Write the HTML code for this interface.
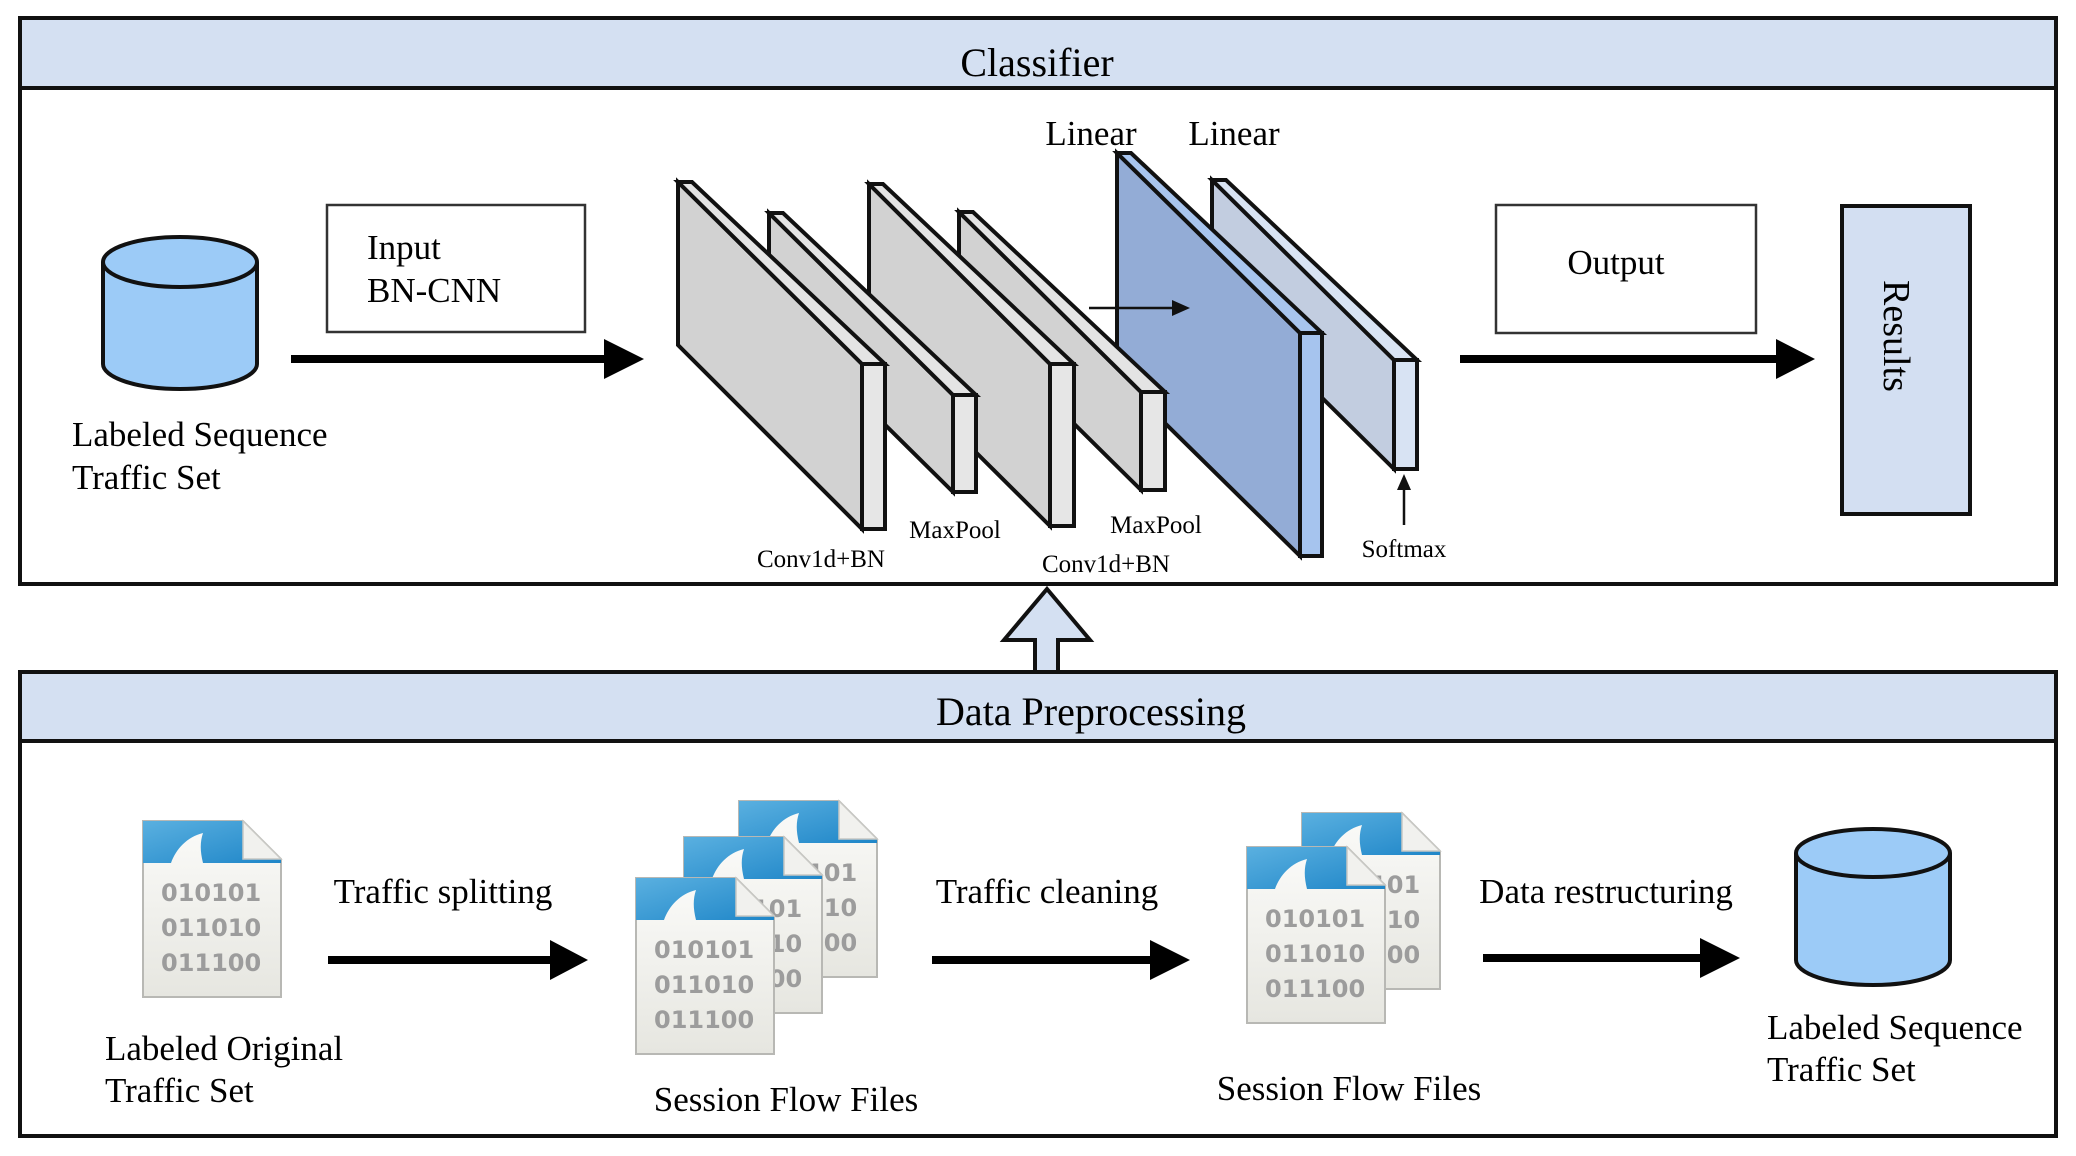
<!DOCTYPE html>
<html><head><meta charset="utf-8"><style>
html,body{margin:0;padding:0;background:#fff}
svg{display:block}
text{font-family:"Liberation Serif",serif;fill:#000}
.n{font-family:"DejaVu Sans",sans-serif;font-weight:bold;font-size:24px;fill:#9c9c9c}
</style></head><body>
<svg width="2076" height="1156" viewBox="0 0 2076 1156" xmlns="http://www.w3.org/2000/svg">
<defs>
<linearGradient id="fg" x1="0" y1="0" x2="0" y2="1"><stop offset="0" stop-color="#fbfbf9"/><stop offset="1" stop-color="#e6e6e0"/></linearGradient>
<linearGradient id="bg" x1="0" y1="0" x2="1" y2="1"><stop offset="0" stop-color="#5ab0e0"/><stop offset="1" stop-color="#1f86c8"/></linearGradient>
</defs>
<rect width="2076" height="1156" fill="#fff"/>

<!-- Classifier panel -->
<rect x="20" y="18" width="2036" height="566" fill="#fff" stroke="#111" stroke-width="4"/>
<rect x="22" y="20" width="2032" height="67" fill="#d4e0f2"/>
<line x1="20" y1="88" x2="2056" y2="88" stroke="#111" stroke-width="4"/>
<text x="1037" y="76" font-size="40" text-anchor="middle">Classifier</text>

<!-- cylinder 1 -->
<path d="M103,262 V364 A77,25 0 0 0 257,364 V262" fill="#9ccbf7" stroke="#111" stroke-width="4"/>
<ellipse cx="180" cy="262" rx="77" ry="25" fill="#9ccbf7" stroke="#111" stroke-width="4"/>
<text x="72" y="446" font-size="35">Labeled Sequence</text>
<text x="72" y="489" font-size="35">Traffic Set</text>

<rect x="327" y="205" width="258" height="127" fill="#fff" stroke="#333" stroke-width="2.5"/>
<text x="367" y="259" font-size="35">Input</text>
<text x="367" y="302" font-size="35">BN-CNN</text>

<line x1="291" y1="359" x2="612" y2="359" stroke="#000" stroke-width="8"/>
<polygon points="604,339 644,359 604,379" fill="#000"/>

<!-- layers: drawn right-to-left so leftmost is in front -->
<g stroke="#111" stroke-width="4" stroke-linejoin="miter">
<!-- layer 6 -->
<polygon points="1212,180 1394,360 1394,469 1212,289" fill="#c2cde0"/>
<polygon points="1212,180 1226,180 1417,360 1394,360" fill="#d8e3f3"/>
<rect x="1394" y="360" width="23" height="109" fill="#d8e3f3"/>
<!-- layer 5 blue -->
<polygon points="1117,153 1300,333 1300,556 1117,376" fill="#93acd6"/>
<polygon points="1117,153 1131,153 1322,333 1300,333" fill="#a8c5ee"/>
<rect x="1300" y="333" width="22" height="223" fill="#a6c4ee"/>
<!-- layer 4 -->
<polygon points="959,212 1141,392 1141,490 959,310" fill="#d2d2d2"/>
<polygon points="959,212 973,212 1165,392 1141,392" fill="#e4e4e4"/>
<rect x="1141" y="392" width="24" height="98" fill="#e6e6e6"/>
<!-- layer 3 -->
<polygon points="869,184 1050,364 1050,526 869,346" fill="#d2d2d2"/>
<polygon points="869,184 883,184 1074,364 1050,364" fill="#e4e4e4"/>
<rect x="1050" y="364" width="24" height="162" fill="#e6e6e6"/>
<!-- layer 2 -->
<polygon points="769,213 953,395 953,492 769,310" fill="#d2d2d2"/>
<polygon points="769,213 783,213 976,395 953,395" fill="#e4e4e4"/>
<rect x="953" y="395" width="23" height="97" fill="#e6e6e6"/>
<!-- layer 1 -->
<polygon points="678,182 862,364 862,529 678,345" fill="#d2d2d2"/>
<polygon points="678,182 692,182 885,364 862,364" fill="#e4e4e4"/>
<rect x="862" y="364" width="23" height="165" fill="#e6e6e6"/>
</g>
<line x1="1089" y1="308" x2="1180" y2="308" stroke="#111" stroke-width="2.5"/>
<polygon points="1172,300 1190,308 1172,316" fill="#111"/>

<line x1="1404" y1="525" x2="1404" y2="487" stroke="#111" stroke-width="2.5"/>
<polygon points="1397,490 1404,474 1411,490" fill="#111"/>

<text x="1091" y="145" font-size="35" text-anchor="middle">Linear</text>
<text x="1234" y="145" font-size="35" text-anchor="middle">Linear</text>
<text x="821" y="567" font-size="25" text-anchor="middle">Conv1d+BN</text>
<text x="955" y="538" font-size="25" text-anchor="middle">MaxPool</text>
<text x="1106" y="572" font-size="25" text-anchor="middle">Conv1d+BN</text>
<text x="1156" y="533" font-size="25" text-anchor="middle">MaxPool</text>
<text x="1404" y="557" font-size="25" text-anchor="middle">Softmax</text>

<rect x="1496" y="205" width="260" height="128" fill="#fff" stroke="#333" stroke-width="2.5"/>
<text x="1616" y="274" font-size="35" text-anchor="middle">Output</text>
<line x1="1460" y1="359" x2="1784" y2="359" stroke="#000" stroke-width="8"/>
<polygon points="1776,339 1815,359 1776,379" fill="#000"/>

<rect x="1842" y="206" width="128" height="308" fill="#d3dff2" stroke="#111" stroke-width="4"/>
<text transform="translate(1884,336) rotate(90)" font-size="38" text-anchor="middle">Results</text>

<!-- up arrow -->
<polygon points="1047,589 1090,640 1058,640 1058,672 1035,672 1035,640 1004,640" fill="#d4e0f2" stroke="#111" stroke-width="4" stroke-linejoin="miter"/>

<!-- Data preprocessing panel -->
<rect x="20" y="672" width="2036" height="464" fill="#fff" stroke="#111" stroke-width="4"/>
<rect x="22" y="674" width="2032" height="66" fill="#d4e0f2"/>
<line x1="20" y1="741" x2="2056" y2="741" stroke="#111" stroke-width="4"/>
<text x="1091" y="725" font-size="40" text-anchor="middle">Data Preprocessing</text>

<!-- file 1 -->
<g transform="translate(143,821)">
<path d="M0,0 H100 L138,38 V176 H0 Z" fill="url(#fg)" stroke="#b8b8b4" stroke-width="2"/>
<path d="M0,0 H100 L138,38 V42 H60 C57,30 57,21 60,12 C44,16 33,28 28,42 H0 Z" fill="url(#bg)"/>
<path d="M100,0 L100,38 L138,38 Z" fill="#f1f1ee" stroke="#c8c8c4" stroke-width="1.5"/>
<text class="n" x="18" y="80">010101</text><text class="n" x="18" y="115">011010</text><text class="n" x="18" y="150">011100</text>
</g>
<text x="443" y="903" font-size="35" text-anchor="middle">Traffic splitting</text>
<line x1="328" y1="960" x2="560" y2="960" stroke="#000" stroke-width="8"/>
<polygon points="550,940 588,960 550,980" fill="#000"/>
<text x="105" y="1060" font-size="35">Labeled Original</text>
<text x="105" y="1102" font-size="35">Traffic Set</text>

<!-- stack 1 -->
<g transform="translate(739,801)">
<path d="M0,0 H100 L138,38 V176 H0 Z" fill="url(#fg)" stroke="#b8b8b4" stroke-width="2"/>
<path d="M0,0 H100 L138,38 V42 H60 C57,30 57,21 60,12 C44,16 33,28 28,42 H0 Z" fill="url(#bg)"/>
<path d="M100,0 L100,38 L138,38 Z" fill="#f1f1ee" stroke="#c8c8c4" stroke-width="1.5"/>
<text class="n" x="18" y="80">010101</text><text class="n" x="18" y="115">011010</text><text class="n" x="18" y="150">011100</text>
</g>
<g transform="translate(684,837)">
<path d="M0,0 H100 L138,38 V176 H0 Z" fill="url(#fg)" stroke="#b8b8b4" stroke-width="2"/>
<path d="M0,0 H100 L138,38 V42 H60 C57,30 57,21 60,12 C44,16 33,28 28,42 H0 Z" fill="url(#bg)"/>
<path d="M100,0 L100,38 L138,38 Z" fill="#f1f1ee" stroke="#c8c8c4" stroke-width="1.5"/>
<text class="n" x="18" y="80">010101</text><text class="n" x="18" y="115">011010</text><text class="n" x="18" y="150">011100</text>
</g>
<g transform="translate(636,878)">
<path d="M0,0 H100 L138,38 V176 H0 Z" fill="url(#fg)" stroke="#b8b8b4" stroke-width="2"/>
<path d="M0,0 H100 L138,38 V42 H60 C57,30 57,21 60,12 C44,16 33,28 28,42 H0 Z" fill="url(#bg)"/>
<path d="M100,0 L100,38 L138,38 Z" fill="#f1f1ee" stroke="#c8c8c4" stroke-width="1.5"/>
<text class="n" x="18" y="80">010101</text><text class="n" x="18" y="115">011010</text><text class="n" x="18" y="150">011100</text>
</g>
<text x="786" y="1111" font-size="35" text-anchor="middle">Session Flow Files</text>

<text x="1047" y="903" font-size="35" text-anchor="middle">Traffic cleaning</text>
<line x1="932" y1="960" x2="1160" y2="960" stroke="#000" stroke-width="8"/>
<polygon points="1150,940 1190,960 1150,980" fill="#000"/>

<!-- stack 2 -->
<g transform="translate(1302,813)">
<path d="M0,0 H100 L138,38 V176 H0 Z" fill="url(#fg)" stroke="#b8b8b4" stroke-width="2"/>
<path d="M0,0 H100 L138,38 V42 H60 C57,30 57,21 60,12 C44,16 33,28 28,42 H0 Z" fill="url(#bg)"/>
<path d="M100,0 L100,38 L138,38 Z" fill="#f1f1ee" stroke="#c8c8c4" stroke-width="1.5"/>
<text class="n" x="18" y="80">010101</text><text class="n" x="18" y="115">011010</text><text class="n" x="18" y="150">011100</text>
</g>
<g transform="translate(1247,847)">
<path d="M0,0 H100 L138,38 V176 H0 Z" fill="url(#fg)" stroke="#b8b8b4" stroke-width="2"/>
<path d="M0,0 H100 L138,38 V42 H60 C57,30 57,21 60,12 C44,16 33,28 28,42 H0 Z" fill="url(#bg)"/>
<path d="M100,0 L100,38 L138,38 Z" fill="#f1f1ee" stroke="#c8c8c4" stroke-width="1.5"/>
<text class="n" x="18" y="80">010101</text><text class="n" x="18" y="115">011010</text><text class="n" x="18" y="150">011100</text>
</g>
<text x="1349" y="1100" font-size="35" text-anchor="middle">Session Flow Files</text>

<text x="1606" y="903" font-size="35" text-anchor="middle">Data restructuring</text>
<line x1="1483" y1="958" x2="1710" y2="958" stroke="#000" stroke-width="8"/>
<polygon points="1700,938 1740,958 1700,978" fill="#000"/>

<!-- cylinder 2 -->
<path d="M1796,853 V960 A77,25 0 0 0 1950,960 V853" fill="#9ccbf7" stroke="#111" stroke-width="4"/>
<ellipse cx="1873" cy="853" rx="77" ry="24" fill="#9ccbf7" stroke="#111" stroke-width="4"/>
<text x="1767" y="1039" font-size="35">Labeled Sequence</text>
<text x="1767" y="1081" font-size="35">Traffic Set</text>
</svg>
</body></html>
